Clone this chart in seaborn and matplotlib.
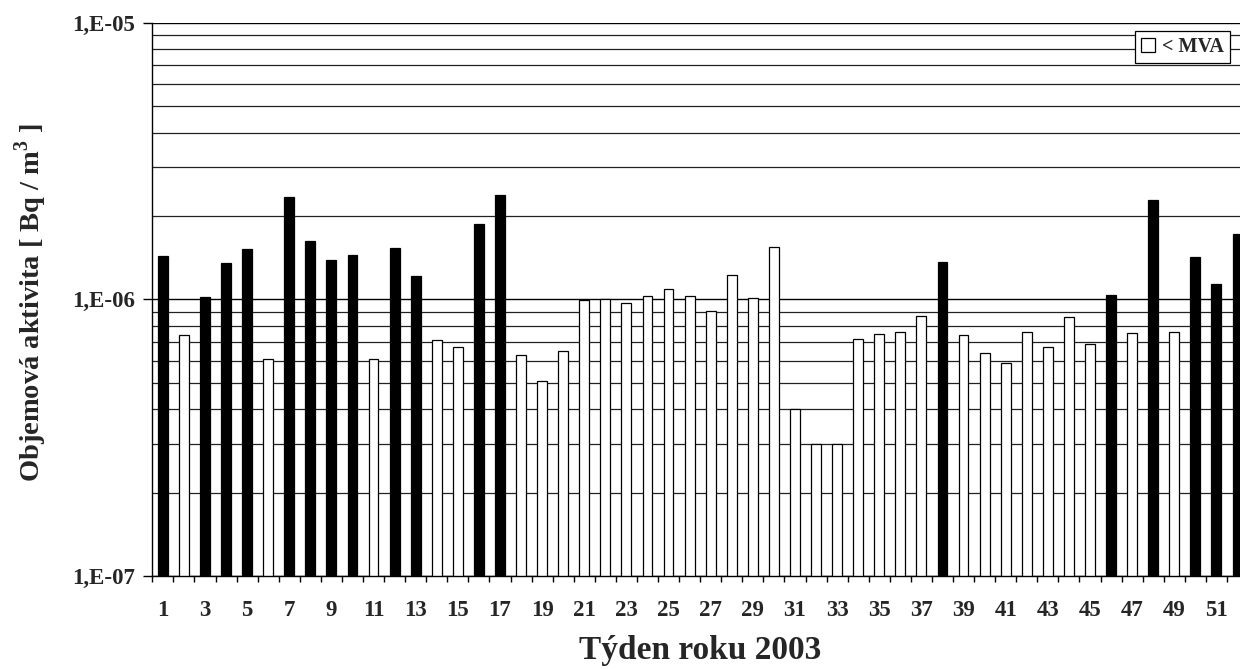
import numpy as np
import pandas as pd
import matplotlib
matplotlib.use("Agg")
import matplotlib.pyplot as plt
from matplotlib.patches import Patch
from matplotlib.ticker import FixedLocator, FixedFormatter, LogLocator, NullFormatter
import seaborn as sns

# Weekly volume activity, 2003
weeks = [str(w) for w in range(1, 53)]
activity = [
    1.43e-6, 0.745e-6, 1.02e-6, 1.35e-6, 1.52e-6, 0.61e-6, 2.34e-6, 1.62e-6,
    1.39e-6, 1.45e-6, 0.61e-6, 1.53e-6, 1.21e-6, 0.71e-6, 0.67e-6, 1.87e-6,
    2.38e-6, 0.63e-6, 0.505e-6, 0.65e-6, 0.99e-6, 1.00e-6, 0.97e-6, 1.03e-6,
    1.09e-6, 1.03e-6, 0.91e-6, 1.22e-6, 1.01e-6, 1.55e-6, 0.40e-6, 0.30e-6,
    0.30e-6, 0.72e-6, 0.75e-6, 0.76e-6, 0.87e-6, 1.36e-6, 0.74e-6, 0.64e-6,
    0.59e-6, 0.76e-6, 0.67e-6, 0.86e-6, 0.69e-6, 1.04e-6, 0.755e-6, 2.28e-6,
    0.76e-6, 1.42e-6, 1.14e-6, 1.72e-6,
]
# weeks with a measured value above the detection limit
detected_weeks = [1, 3, 4, 5, 7, 8, 9, 10, 12, 13, 16, 17, 38, 46, 48, 50, 51, 52]
status = ["měřeno" if int(w) in detected_weeks else "< MVA" for w in weeks]

ytick_values = [1e-7, 1e-6, 1e-5]
ytick_labels = ["1,E-07", "1,E-06", "1,E-05"]
legend_label = "< MVA"
xlabel = "Týden roku 2003"
ylabel = "Objemová aktivita [ Bq / m$^\\mathbf{3}$ ]"

df = pd.DataFrame({"week": weeks, "activity": activity, "status": status})

sns.set_style("white")
plt.rcParams["font.family"] = ["Liberation Serif", "DejaVu Serif"]
plt.rcParams["font.weight"] = "bold"
plt.rcParams["mathtext.fontset"] = "custom"
plt.rcParams["mathtext.rm"] = "Liberation Serif:bold"
plt.rcParams["mathtext.bf"] = "Liberation Serif:bold"

fig = plt.figure(figsize=(12.4, 6.69), dpi=100)
W, H = 1240, 669
left, right, top, bottom = 152.3, 1248.0, 22.5, 576.0
ax = fig.add_axes([left / W, 1 - bottom / H, (right - left) / W, (bottom - top) / H])

sns.barplot(
    data=df, x="week", y="activity", hue="status",
    palette={"měřeno": "black", "< MVA": "white"},
    order=weeks, dodge=False, width=0.47,
    edgecolor="black", linewidth=0.9, legend=False,
    log_scale=True, ax=ax,
)

ax.set_yscale("log")
ax.set_ylim(ytick_values[0], ytick_values[-1])
ax.set_xlim(-0.5, len(weeks) - 0.5)

# y axis: decade labels, gridlines at every log subdivision
ax.yaxis.set_major_locator(FixedLocator(ytick_values))
ax.yaxis.set_major_formatter(FixedFormatter(ytick_labels))
ax.yaxis.set_minor_locator(LogLocator(base=10, subs=np.arange(2, 10)))
ax.yaxis.set_minor_formatter(NullFormatter())
ax.tick_params(axis="y", which="major", direction="out", length=6.5, width=1,
               pad=6, labelsize=16.5, left=True, color="black")
ax.tick_params(axis="y", which="minor", length=0)
ax.set_axisbelow(True)
ax.yaxis.grid(True, which="major", color="black", linewidth=1.0)
ax.yaxis.grid(True, which="minor", color="#222222", linewidth=0.9)
ax.xaxis.grid(False)

# x axis: labels on odd weeks, tick marks between categories
pos = np.arange(len(weeks))
ax.xaxis.set_major_locator(FixedLocator(pos[::2]))
ax.xaxis.set_major_formatter(FixedFormatter(weeks[::2]))
ax.xaxis.set_minor_locator(FixedLocator(np.arange(len(weeks) + 1) - 0.5))
ax.tick_params(axis="x", which="major", length=0, pad=17, labelsize=16.5, bottom=True)
ax.tick_params(axis="x", which="minor", direction="out", length=4, width=1,
               bottom=True, color="black")

for side in ("top", "right"):
    ax.spines[side].set_visible(False)
for side in ("left", "bottom"):
    ax.spines[side].set_visible(True)
    ax.spines[side].set_color("black")
    ax.spines[side].set_linewidth(1.0)

ax.set_xlabel("")
ax.set_ylabel("")
fig.text((left + right) / 2 / W, 1 - 650 / H, xlabel, ha="center", va="center",
         fontsize=24, fontweight="bold")
fig.text(31 / W, 1 - 302 / H, ylabel, ha="center", va="center", rotation=90,
         fontsize=20.5, fontweight="bold")

handle = Patch(facecolor="white", edgecolor="black", linewidth=0.9)
leg = ax.legend(
    [handle], [legend_label], loc="upper right",
    bbox_to_anchor=(1230 / W, 1 - 31 / H), bbox_transform=fig.transFigure,
    borderaxespad=0, fancybox=False, framealpha=1, edgecolor="black",
    handlelength=0.7, handleheight=0.7, handletextpad=0.35, borderpad=0.3,
    prop={"family": "Liberation Serif", "weight": "bold", "size": 14.5},
)
leg.get_frame().set_linewidth(0.9)

fig.savefig("out.png", dpi=100)
